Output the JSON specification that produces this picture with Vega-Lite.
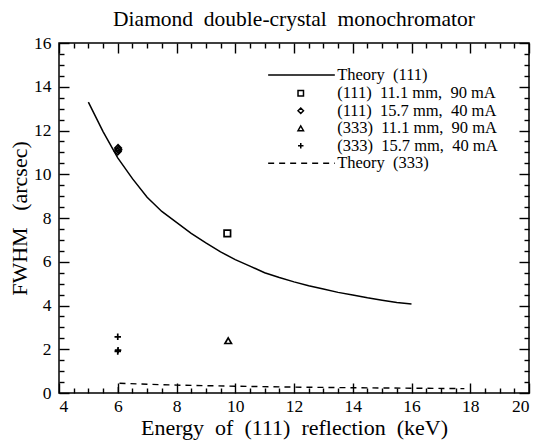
{
  "$schema": "https://vega.github.io/schema/vega-lite/v6.json",
  "width": 470,
  "height": 350,
  "autosize": {"type": "none"},
  "padding": {"left": 59, "top": 43, "right": 8, "bottom": 47},
  "background": "white",
  "title": {"text": "Diamond\u00a0\u00a0double-crystal\u00a0\u00a0monochromator", "font": "Liberation Serif", "fontSize": 21.5, "fontWeight": "normal", "color": "black", "baseline": "alphabetic", "offset": -13},
  "config": {
    "view": {"stroke": "black", "strokeWidth": 1.5},
    "axis": {"domain": false, "grid": false, "ticks": true, "tickColor": "black", "tickWidth": 1.4, "labelColor": "black", "titleColor": "black", "labelFont": "Liberation Serif", "titleFont": "Liberation Serif", "labelFontSize": 17.5, "titleFontSize": 22, "titleFontWeight": "normal"}
  },
  "datasets": {
    "theory111": [
      {"E": 5.0, "F": 13.3}, {"E": 5.5, "F": 11.95}, {"E": 6.0, "F": 10.75}, {"E": 6.5, "F": 9.8},
      {"E": 7.0, "F": 8.95}, {"E": 7.5, "F": 8.3}, {"E": 8.0, "F": 7.8}, {"E": 8.5, "F": 7.3},
      {"E": 9.0, "F": 6.86}, {"E": 9.5, "F": 6.45}, {"E": 10.0, "F": 6.1}, {"E": 10.5, "F": 5.8},
      {"E": 11.0, "F": 5.5}, {"E": 11.5, "F": 5.28}, {"E": 12.0, "F": 5.08}, {"E": 12.5, "F": 4.9},
      {"E": 13.0, "F": 4.75}, {"E": 13.5, "F": 4.6}, {"E": 14.0, "F": 4.48}, {"E": 14.5, "F": 4.35},
      {"E": 15.0, "F": 4.24}, {"E": 15.5, "F": 4.14}, {"E": 16.0, "F": 4.07}
    ],
    "theory333": [
      {"E": 6.02, "F": 0.0}, {"E": 6.02, "F": 0.45}, {"E": 7.0, "F": 0.4}, {"E": 8.0, "F": 0.36},
      {"E": 10.0, "F": 0.31}, {"E": 12.0, "F": 0.27}, {"E": 14.0, "F": 0.24}, {"E": 16.0, "F": 0.22}, {"E": 17.8, "F": 0.2}
    ],
    "points": [
      {"E": 9.73, "F": 7.3, "series": "(111) 11.1 mm, 90 mA"},
      {"E": 6.0, "F": 11.04, "series": "(111) 15.7 mm, 40 mA"},
      {"E": 6.02, "F": 11.12, "series": "(111) 15.7 mm, 40 mA"},
      {"E": 6.01, "F": 11.2, "series": "(111) 15.7 mm, 40 mA"},
      {"E": 9.76, "F": 2.39, "series": "(333) 11.1 mm, 90 mA"},
      {"E": 6.0, "F": 2.57, "series": "(333) 15.7 mm, 40 mA"},
      {"E": 6.0, "F": 1.9, "series": "(333) 15.7 mm, 40 mA"},
      {"E": 6.01, "F": 1.96, "series": "(333) 15.7 mm, 40 mA"}
    ],
    "legendText": [
      {"E": 13.47, "F": 14.54, "label": "Theory\u00a0\u00a0(111)"},
      {"E": 13.47, "F": 13.7, "label": "(111)\u00a0\u00a011.1\u00a0mm,\u00a0\u00a090\u00a0mA"},
      {"E": 13.47, "F": 12.9, "label": "(111)\u00a0\u00a015.7\u00a0mm,\u00a0\u00a040\u00a0mA"},
      {"E": 13.47, "F": 12.1, "label": "(333)\u00a0\u00a011.1\u00a0mm,\u00a0\u00a090\u00a0mA"},
      {"E": 13.47, "F": 11.3, "label": "(333)\u00a0\u00a015.7\u00a0mm,\u00a0\u00a040\u00a0mA"},
      {"E": 13.47, "F": 10.5, "label": "Theory\u00a0\u00a0(333)"}
    ],
    "legendPoints": [
      {"E": 12.23, "F": 13.7, "series": "(111) 11.1 mm, 90 mA"},
      {"E": 12.23, "F": 12.9, "series": "(111) 15.7 mm, 40 mA"},
      {"E": 12.23, "F": 12.1, "series": "(333) 11.1 mm, 90 mA"},
      {"E": 12.23, "F": 11.3, "series": "(333) 15.7 mm, 40 mA"}
    ],
    "legendLines": [
      {"E": 11.12, "E2": 13.39, "F": 14.54, "kind": "solid"},
      {"E": 11.12, "E2": 13.39, "F": 10.5, "kind": "dashed"}
    ]
  },
  "resolve": {"axis": {"x": "independent", "y": "independent"}},
  "layer": [
    {
      "data": {"name": "theory111"},
      "mark": {"type": "line", "color": "black", "strokeWidth": 1.5, "clip": true},
      "encoding": {
        "x": {"field": "E", "type": "quantitative", "scale": {"domain": [4, 20], "nice": false, "zero": false},
              "axis": {"orient": "bottom", "values": [4, 6, 8, 10, 12, 14, 16, 18, 20], "tickSize": -10, "labelPadding": 14, "title": "Energy\u00a0\u00a0of\u00a0\u00a0(111)\u00a0\u00a0reflection\u00a0\u00a0(keV)", "titlePadding": 3}},
        "y": {"field": "F", "type": "quantitative", "scale": {"domain": [0, 16], "nice": false, "zero": false},
              "axis": {"orient": "left", "values": [0, 2, 4, 6, 8, 10, 12, 14, 16], "tickSize": -10, "labelPadding": 18, "title": "FWHM\u00a0\u00a0\u00a0(arcsec)", "titlePadding": 2}}
      }
    },
    {
      "data": {"name": "theory333"},
      "mark": {"type": "line", "color": "black", "strokeWidth": 1.4, "strokeDash": [6, 5]},
      "encoding": {
        "x": {"field": "E", "type": "quantitative",
              "axis": {"orient": "bottom", "values": [4.5, 5, 5.5, 6.5, 7, 7.5, 8.5, 9, 9.5, 10.5, 11, 11.5, 12.5, 13, 13.5, 14.5, 15, 15.5, 16.5, 17, 17.5, 18.5, 19, 19.5], "tickSize": -5, "labels": false, "title": null}},
        "y": {"field": "F", "type": "quantitative",
              "axis": {"orient": "left", "values": [0.5, 1, 1.5, 2.5, 3, 3.5, 4.5, 5, 5.5, 6.5, 7, 7.5, 8.5, 9, 9.5, 10.5, 11, 11.5, 12.5, 13, 13.5, 14.5, 15, 15.5], "tickSize": -5, "labels": false, "title": null}}
      }
    },
    {
      "data": {"name": "points"},
      "mark": {"type": "point", "filled": false, "color": "black", "strokeWidth": 1.7, "opacity": 1, "size": 42},
      "encoding": {
        "x": {"field": "E", "type": "quantitative",
              "axis": {"orient": "top", "values": [4, 6, 8, 10, 12, 14, 16, 18, 20], "tickSize": -10, "labels": false, "title": null}},
        "y": {"field": "F", "type": "quantitative",
              "axis": {"orient": "right", "values": [0, 2, 4, 6, 8, 10, 12, 14, 16], "tickSize": -10, "labels": false, "title": null}},
        "shape": {"field": "series", "type": "nominal", "legend": null,
                  "scale": {"domain": ["(111) 11.1 mm, 90 mA", "(111) 15.7 mm, 40 mA", "(333) 11.1 mm, 90 mA", "(333) 15.7 mm, 40 mA"],
                            "range": ["square", "diamond", "triangle-up", "M-1,0H1M0,-1V1"]}}
      }
    },
    {
      "data": {"name": "legendText"},
      "mark": {"type": "text", "align": "left", "baseline": "middle", "font": "Liberation Serif", "fontSize": 16.5, "color": "black"},
      "encoding": {
        "x": {"field": "E", "type": "quantitative",
              "axis": {"orient": "top", "values": [4.5, 5, 5.5, 6.5, 7, 7.5, 8.5, 9, 9.5, 10.5, 11, 11.5, 12.5, 13, 13.5, 14.5, 15, 15.5, 16.5, 17, 17.5, 18.5, 19, 19.5], "tickSize": -5, "labels": false, "title": null}},
        "y": {"field": "F", "type": "quantitative",
              "axis": {"orient": "right", "values": [0.5, 1, 1.5, 2.5, 3, 3.5, 4.5, 5, 5.5, 6.5, 7, 7.5, 8.5, 9, 9.5, 10.5, 11, 11.5, 12.5, 13, 13.5, 14.5, 15, 15.5], "tickSize": -5, "labels": false, "title": null}},
        "text": {"field": "label"}
      }
    },
    {
      "data": {"name": "legendPoints"},
      "mark": {"type": "point", "filled": false, "color": "black", "strokeWidth": 1.5, "opacity": 1, "size": 30},
      "encoding": {
        "x": {"field": "E", "type": "quantitative", "axis": null},
        "y": {"field": "F", "type": "quantitative", "axis": null},
        "shape": {"field": "series", "type": "nominal", "legend": null}
      }
    },
    {
      "data": {"name": "legendLines"},
      "mark": {"type": "rule", "color": "black", "strokeWidth": 1.4},
      "encoding": {
        "x": {"field": "E", "type": "quantitative", "axis": null},
        "x2": {"field": "E2"},
        "y": {"field": "F", "type": "quantitative", "axis": null},
        "strokeDash": {"field": "kind", "type": "nominal", "legend": null, "scale": {"domain": ["solid", "dashed"], "range": [[1, 0], [6, 5]]}}
      }
    }
  ]
}
